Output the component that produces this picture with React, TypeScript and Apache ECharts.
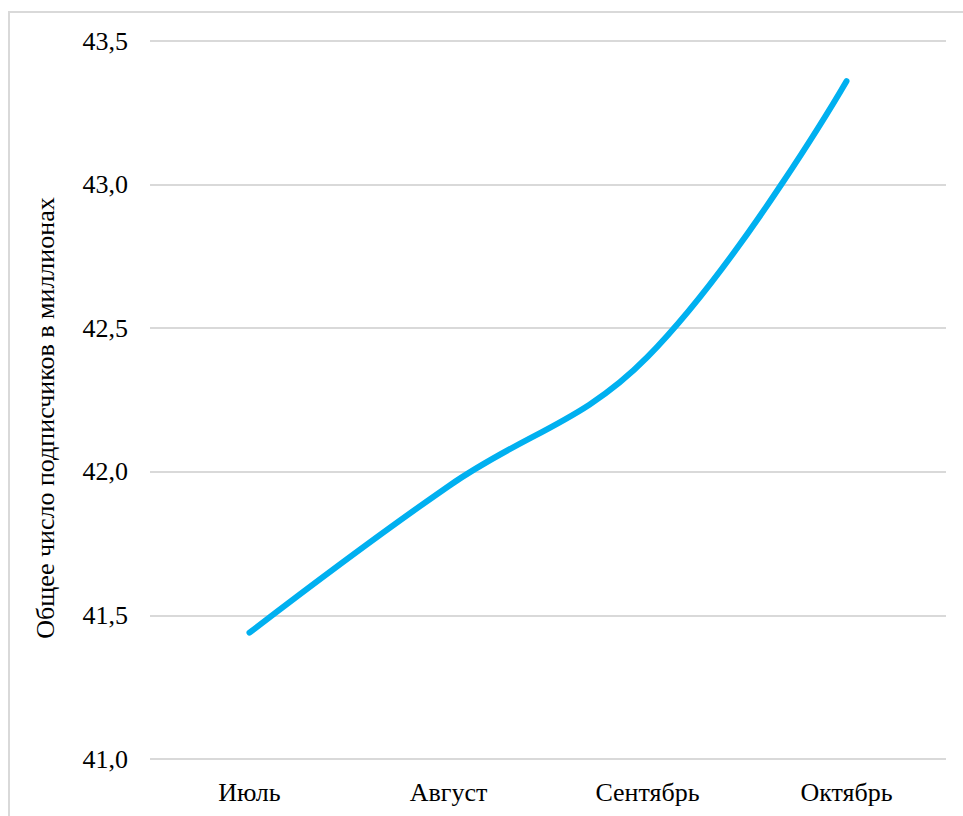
import React, { useEffect, useRef } from "react";
import * as echarts from "echarts";

const categories = ["Июль", "Август", "Сентябрь", "Октябрь"];
const subscribers = [41.44, 41.95, 42.4, 43.36];
const yAxisTitle = "Общее число подписчиков в миллионах";

export default function App() {
  const ref = useRef<HTMLDivElement>(null);
  useEffect(() => {
    if (!ref.current) return;
    const chart = echarts.init(ref.current, undefined, { renderer: "svg" });
    const font = "'Liberation Serif', 'Times New Roman', serif";
    chart.setOption({
      animation: false,
      backgroundColor: "#ffffff",
      textStyle: { fontFamily: font },
      graphic: [
        {
          type: "rect",
          shape: { x: 9, y: 12, width: 1000, height: 900 },
          style: { fill: "none", stroke: "#d9d9d9", lineWidth: 2 },
          silent: true,
        },
        {
          type: "text",
          x: 45,
          y: 418,
          rotation: Math.PI / 2,
          style: {
            text: yAxisTitle,
            fill: "#000",
            font: `26px ${font}`,
            textAlign: "center",
            textVerticalAlign: "middle",
          },
          silent: true,
        },
      ],
      grid: { left: 150, right: 17, top: 41, bottom: 57, containLabel: false },
      xAxis: {
        type: "category",
        data: categories,
        boundaryGap: true,
        axisLine: { show: false },
        axisTick: { show: false },
        axisLabel: { color: "#000", fontSize: 26, fontFamily: font, margin: 20 },
      },
      yAxis: {
        type: "value",
        min: 41,
        max: 43.5,
        interval: 0.5,
        axisLine: { show: false },
        axisTick: { show: false },
        axisLabel: {
          color: "#000",
          fontSize: 26,
          fontFamily: font,
          margin: 22,
          formatter: (v: number) => v.toFixed(1).replace(".", ","),
        },
        splitLine: { lineStyle: { color: "#d9d9d9", width: 2 } },
      },
      series: [
        {
          type: "line",
          data: subscribers,
          smooth: 0.4,
          showSymbol: false,
          lineStyle: { color: "#00b0f0", width: 6, cap: "round" },
        },
      ],
    });
    return () => chart.dispose();
  }, []);
  return (
    <div
      ref={ref}
      style={{ position: "absolute", left: 0, top: 0, width: 963, height: 816 }}
    />
  );
}
